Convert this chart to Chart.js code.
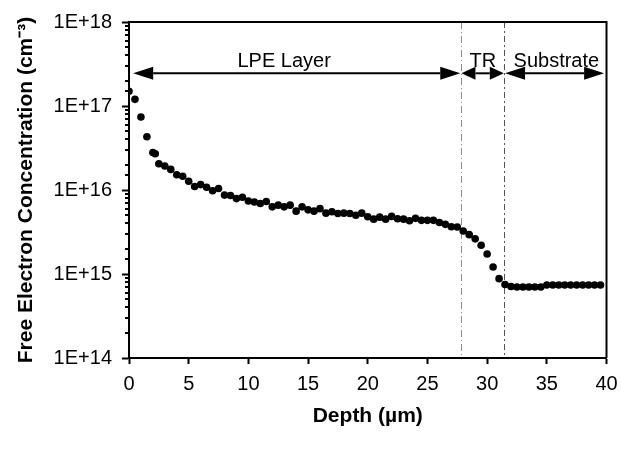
<!DOCTYPE html>
<html>
<head>
<meta charset="utf-8">
<script src="https://cdn.jsdelivr.net/npm/chart.js@4/dist/chart.umd.min.js"></script>
<style>
  html, body { margin: 0; padding: 0; background: #fff; }
  #wrap { width: 621px; height: 449px; }
</style>
</head>
<body>
<div id="wrap"><canvas id="profile" width="621" height="449"></canvas></div>
<script>
  "use strict";

  // depth (um) and free electron concentration (cm-3)
  var depth = [
    0, 0.5, 1, 1.5, 2, 2.2, 2.5, 3, 3.5, 4, 4.5, 5, 5.5, 6, 6.5, 7, 7.5,
    8, 8.5, 9, 9.5, 10, 10.5, 11, 11.5, 12, 12.5, 13, 13.5, 14, 14.5, 15, 15.5,
    16, 16.5, 17, 17.5, 18, 18.5, 19, 19.5, 20, 20.5, 21, 21.5, 22, 22.5, 23, 23.5,
    24, 24.5, 25, 25.5, 26, 26.5, 27, 27.5, 28, 28.5, 29, 29.5, 30, 30.5, 31, 31.5,
    32, 32.5, 33, 33.5, 34, 34.5, 35, 35.5, 36, 36.5, 37, 37.5, 38, 38.5, 39, 39.5
  ];
  var concentration = [
    1.5e17, 1.2e17, 7.4e16, 4.3e16, 2.8e16, 2.7e16, 2.05e16, 1.93e16, 1.76e16, 1.52e16, 1.46e16, 1.27e16, 1.1e16, 1.16e16, 1.08e16, 9.8e15, 1.04e16,
    8.7e15, 8.6e15, 7.9e15, 8.2e15, 7.4e15, 7.2e15, 6.9e15, 7.3e15, 6.3e15, 6.6e15, 6.3e15, 6.6e15, 5.6e15, 6.3e15, 5.8e15, 5.6e15,
    6.0e15, 5.3e15, 5.5e15, 5.25e15, 5.3e15, 5.25e15, 5.0e15, 5.3e15, 4.8e15, 4.5e15, 4.75e15, 4.5e15, 4.85e15, 4.55e15, 4.5e15, 4.3e15,
    4.6e15, 4.35e15, 4.35e15, 4.35e15, 4.1e15, 3.9e15, 3.65e15, 3.63e15, 3.25e15, 2.94e15, 2.62e15, 2.2e15, 1.73e15, 1.21e15, 8.8e14, 7.5e14,
    7.1e14, 7.0e14, 7.0e14, 7.0e14, 7.0e14, 7.0e14, 7.4e14, 7.4e14, 7.4e14, 7.4e14, 7.4e14, 7.4e14, 7.4e14, 7.4e14, 7.4e14, 7.4e14
  ];

  var xTicks = [0, 5, 10, 15, 20, 25, 30, 35, 40];
  var yTicks = ["1E+14", "1E+15", "1E+16", "1E+17", "1E+18"];

  // region boundaries and labelled arrows (data units)
  var boundaries = [27.8, 31.45];
  var regionNames = ["LPE Layer", "TR", "Substrate"];
  var regionFrom = [0.35, 27.85, 31.5];
  var regionTo = [27.75, 31.4, 39.8];
  var regionLabelX = [13, 29.65, 35.8];
  var arrowLevel = 2.45e17;
  var labelLevel = 3.4e17;

  var points = depth.map(function(d, i) {
    return { x: d, y: concentration[i] };
  });

  var isDecade = function(v) {
    var e = Math.log10(v);
    return Math.abs(e - Math.round(e)) < 1e-9;
  };

  var drawArrow = function(ctx, x1, x2, y, head) {
    ctx.beginPath();
    ctx.moveTo(x1 + head, y);
    ctx.lineTo(x2 - head, y);
    ctx.stroke();
    ctx.beginPath();
    ctx.moveTo(x1, y);
    ctx.lineTo(x1 + head, y - 6.5);
    ctx.lineTo(x1 + head, y + 6.5);
    ctx.closePath();
    ctx.fill();
    ctx.beginPath();
    ctx.moveTo(x2, y);
    ctx.lineTo(x2 - head, y - 6.5);
    ctx.lineTo(x2 - head, y + 6.5);
    ctx.closePath();
    ctx.fill();
  };

  var framePlugin = {
    id: "frame",
    beforeDatasetsDraw: function(chart) {
      var ctx = chart.ctx;
      var area = chart.chartArea;
      var xs = chart.scales.x;
      ctx.save();
      ctx.lineWidth = 1;
      boundaries.forEach(function(b, i) {
        var px = Math.round(xs.getPixelForValue(b)) + 0.5;
        ctx.strokeStyle = i === 0 ? "#8c8c8c" : "#555";
        ctx.setLineDash(i === 0 ? [7, 3, 1, 3] : [6, 3, 2, 3]);
        ctx.beginPath();
        ctx.moveTo(px, area.top);
        ctx.lineTo(px, area.bottom);
        ctx.stroke();
      });
      ctx.restore();
    },
    afterDraw: function(chart) {
      var ctx = chart.ctx;
      var area = chart.chartArea;
      var xs = chart.scales.x;
      var ys = chart.scales.y;
      ctx.save();

      // box top and right
      ctx.strokeStyle = "#000";
      ctx.lineWidth = 2;
      ctx.beginPath();
      ctx.moveTo(area.left, area.top);
      ctx.lineTo(area.right, area.top);
      ctx.lineTo(area.right, area.bottom);
      ctx.stroke();

      // minor ticks on the log axis
      ys.ticks.forEach(function(t) {
        if (isDecade(t.value)) return;
        var py = Math.round(ys.getPixelForValue(t.value));
        ctx.beginPath();
        ctx.moveTo(area.left - 4, py);
        ctx.lineTo(area.left, py);
        ctx.stroke();
      });

      // arrows and region labels
      ctx.fillStyle = "#000";
      var ay = ys.getPixelForValue(arrowLevel);
      regionNames.forEach(function(name, i) {
        var x1 = xs.getPixelForValue(regionFrom[i]);
        var x2 = xs.getPixelForValue(regionTo[i]);
        drawArrow(ctx, x1, x2, ay, i === 1 ? 14 : 20);
      });
      ctx.font = "20px 'Liberation Sans', Arial, sans-serif";
      ctx.textAlign = "center";
      ctx.textBaseline = "middle";
      var ly = ys.getPixelForValue(labelLevel);
      regionNames.forEach(function(name, i) {
        ctx.fillText(name, xs.getPixelForValue(regionLabelX[i]), ly);
      });
      ctx.restore();
    }
  };

  var initChart = function() {
    new Chart("profile", {
      type: "scatter",
      data: {
        datasets: [{
          data: points,
          backgroundColor: "#000",
          borderColor: "#000",
          pointRadius: 3.8,
          pointBorderWidth: 0
        }]
      },
      options: {
        responsive: false,
        animation: false,
        layout: { padding: { left: 0, right: 14.5, top: 22, bottom: 0 } },
        plugins: {
          legend: false,
          tooltip: false
        },
        scales: {
          x: {
            type: "linear",
            min: 0,
            max: 40,
            afterFit: function(scale) {
              scale.height = 91;
              scale.paddingLeft = 0;
              scale.paddingRight = 0;
            },
            afterBuildTicks: function(scale) {
              scale.ticks = xTicks.map(function(v) { return { value: v }; });
            },
            border: { display: true, color: "#000", width: 2 },
            grid: { drawOnChartArea: false, tickLength: 6, tickColor: "#000", tickWidth: 2 },
            ticks: {
              color: "#000",
              padding: 8,
              maxRotation: 0,
              font: { family: "'Liberation Sans', Arial, sans-serif", size: 20 }
            },
            title: {
              display: true,
              text: "Depth (\u00b5m)",
              color: "#000",
              padding: { top: 0, bottom: 20 },
              font: { family: "'Liberation Sans', Arial, sans-serif", size: 21, weight: "bold" }
            }
          },
          y: {
            type: "logarithmic",
            min: 1e14,
            max: 1e18,
            afterFit: function(scale) { scale.width = 129; },
            border: { display: true, color: "#000", width: 2 },
            grid: {
              drawOnChartArea: false,
              tickLength: 7,
              tickWidth: 2,
              tickColor: function(c) {
                return c.tick && isDecade(c.tick.value) ? "#000" : "rgba(0,0,0,0)";
              }
            },
            ticks: {
              color: "#000",
              padding: 10,
              autoSkip: false,
              font: { family: "'Liberation Sans', Arial, sans-serif", size: 20 },
              callback: function(v) {
                if (!isDecade(v)) return "";
                return yTicks[Math.round(Math.log10(v)) - 14];
              }
            },
            title: {
              display: true,
              text: "Free Electron Concentration (cm\u207b\u00b3)",
              color: "#000",
              padding: { top: 14, bottom: 0 },
              font: { family: "'Liberation Sans', Arial, sans-serif", size: 21, weight: "bold" }
            }
          }
        }
      },
      plugins: [framePlugin]
    });
  };

  initChart();
</script>
</body>
</html>
